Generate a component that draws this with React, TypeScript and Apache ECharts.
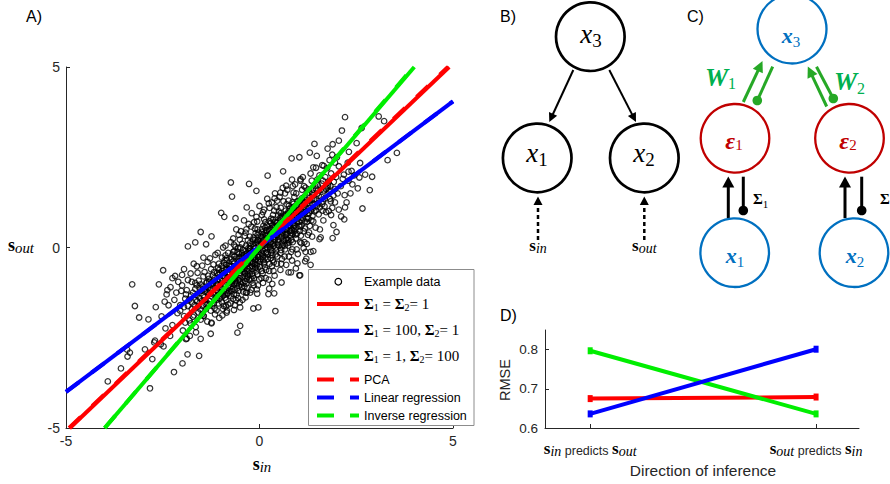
import React, { useEffect, useRef } from 'react';
import * as echarts from 'echarts';

// ---------------- DATA ----------------
const AXIS_A_TICKS = [-5, 0, 5];

// sparse outer points of the example data (s_in, s_out)
const EXAMPLE_OUTER: number[][] = [
  [-0.74, 1.8], [-0.27, 1.76], [-0.08, 1.57], [-0.71, 1.41], [-0.33, 1.11], [-0.99, 0.96], [-0.91, 0.85], [-0.62, 0.81],
  [-1.52, 0.43], [-1.24, 0.31], [-1.66, 0.14], [-1.85, 0.03], [-1.38, 0.09],
  [2.21, 3.61], [2.13, 3.24], [1.42, 2.87], [1.89, 2.86], [0.83, 2.47], [1.03, 2.5], [1.3, 2.63], [1.76, 2.74], [0.61, 2.11],
  [0.21, 1.99], [3.55, 2.62], [3.31, 2.42], [2.91, 1.96], [2.54, 1.64], [2.85, 1.59], [2.66, 1.08], [3.22, 3.5], [2.6, 2.34],
  [2.21, 1.11], [2.11, 0.86], [1.91, 0.62], [1.89, 0.26], [1.58, 0.28], [1.22, 0.1], [1.99, 0.43], [1.77, 1.71], [2.38, 2.12],
  [2.58, 1.94], [2.73, 2.02], [2.28, 2.35], [2.51, 2.89], [1.88, 2.57], [1.48, 2.54], [1.06, 1.89], [1.39, 2.22], [1.66, 2.26],
  [2.05, 2.96], [2.31, 2.65], [2.64, 3.31], [3.08, 3.63], [2.19, 0.78], [1.55, 0.23], [1.32, -0.12], [1.21, -0.31], [0.98, -0.44],
  [1.03, -0.77], [0.81, -0.69], [0.41, -1.76],
  [-2.49, -0.63], [-2.18, -0.79], [-3.29, -1.02], [-2.6, -1.02], [-2.38, -1.18], [-3.22, -1.62], [-3.11, -1.94], [-2.87, -1.99],
  [-2.68, -1.65], [-2.53, -1.91], [-3.35, -2.91], [-3.41, -3.02], [-3.58, -3.35], [-3.92, -3.71], [-2.83, -3.9], [-2.21, -3.45],
  [-1.99, -3.21], [-1.86, -2.96], [-1.56, -3.0], [-1.88, -2.52], [-1.64, -2.35], [-1.26, -2.39], [-0.5, -2.17], [-0.57, -2.36],
  [-0.16, -1.69], [-2.43, -2.24], [-2.31, -2.45], [-2.55, -2.68], [-2.96, -2.82], [-2.72, -2.63], [-2.0, -0.76], [-2.7, -2.58],
  [-2.48, -2.74], [-2.77, -3.09], [-1.52, -2.53], [-1.9, -2.54], [-3.42, -2.83],
  [0.38, -1.27], [0.57, -0.97], [0.75, -0.69], [1.05, -0.77], [0.94, -0.58], [1.18, -0.38], [1.32, -0.48], [1.39, -0.1],
  [1.19, -0.12], [0.25, -1.14], [0.33, -1.01], [-0.33, -1.25], [-0.03, -1.66], [0.23, -1.29], [-0.5, -1.66], [-0.85, -1.8],
  [-1.24, -2.08], [-1.45, -1.89], [-0.07, -1.16],
  [-2.3, -1.1], [-2.2, -1.45], [-2.1, -0.95], [-2.35, -1.6], [-1.95, -0.6], [-2.15, -1.25], [-2.0, -1.05], [-2.4, -1.3],
  [-1.9, -1.3], [-2.25, -0.85], [-2.05, -1.75], [-2.45, -1.5], [-1.7, -0.45], [-1.75, -0.95],
  [2.2, 1.45], [2.15, 1.9], [2.3, 2.1], [2.05, 2.25], [1.95, 1.25], [2.25, 1.25], [2.4, 1.75], [1.85, 2.05], [2.35, 1.5],
  [1.7, 1.95], [2.45, 2.0], [2.0, 2.5],
];

// dense core of the example data (s_in, s_out)
const EXAMPLE_CORE: number[][] = [
  [-2.05, -1.6], [-1.98, -2.3], [-2.02, -1.2], [-1.95, -1.9],
  [-1.82, -1.45], [-1.78, -2.1], [-1.85, -0.9], [-1.75, -1.7], [-1.8, -2.45], [-1.72, -1.25],
  [-1.62, -1.05], [-1.58, -1.8], [-1.65, -2.2], [-1.55, -1.4], [-1.6, -0.7], [-1.68, -1.6], [-1.52, -2.0],
  [-1.42, -1.15], [-1.38, -1.7], [-1.45, -0.8], [-1.35, -2.05], [-1.4, -1.45], [-1.48, -0.5], [-1.32, -1.3], [-1.44, -1.9], [-1.36, -0.95],
  [-1.22, -1.0], [-1.18, -1.55], [-1.25, -0.6], [-1.15, -1.85], [-1.2, -1.25], [-1.28, -0.3], [-1.12, -1.4], [-1.24, -2.1], [-1.16, -0.85], [-1.3, -1.6],
  [-1.02, -0.9], [-0.98, -1.35], [-1.05, -0.45], [-0.95, -1.7], [-1.0, -1.1], [-1.08, -0.15], [-0.92, -1.2], [-1.04, -1.95], [-0.96, -0.65], [-1.1, -1.45], [-0.9, -0.35], [-1.06, -0.75],
  [-0.82, -0.7], [-0.78, -1.2], [-0.85, -0.3], [-0.75, -1.55], [-0.8, -0.95], [-0.88, 0.05], [-0.72, -1.0], [-0.84, -1.75], [-0.76, -0.5], [-0.9, -1.3], [-0.7, -0.2], [-0.86, -0.6], [-0.74, -1.35],
  [-0.62, -0.55], [-0.58, -1.0], [-0.65, -0.1], [-0.55, -1.4], [-0.6, -0.8], [-0.68, 0.25], [-0.52, -0.85], [-0.64, -1.6], [-0.56, -0.3], [-0.7, -1.15], [-0.5, 0.0], [-0.66, -0.45], [-0.54, -1.2], [-0.6, 0.5],
  [-0.42, -0.35], [-0.38, -0.8], [-0.45, 0.1], [-0.35, -1.25], [-0.4, -0.6], [-0.48, 0.45], [-0.32, -0.65], [-0.44, -1.45], [-0.36, -0.1], [-0.5, -0.95], [-0.3, 0.2], [-0.46, -0.25], [-0.34, -1.0], [-0.4, 0.75],
  [-0.22, -0.15], [-0.18, -0.6], [-0.25, 0.3], [-0.15, -1.05], [-0.2, -0.4], [-0.28, 0.65], [-0.12, -0.45], [-0.24, -1.25], [-0.16, 0.1], [-0.3, -0.75], [-0.1, 0.4], [-0.26, -0.05], [-0.14, -0.85], [-0.2, 0.95],
  [-0.02, 0.05], [0.02, -0.4], [-0.05, 0.5], [0.05, -0.85], [0.0, -0.2], [-0.08, 0.85], [0.08, -0.25], [-0.04, -1.05], [0.04, 0.3], [-0.1, -0.55], [0.1, 0.6], [-0.06, 0.15], [0.06, -0.65], [0.0, 1.15],
  [0.18, 0.25], [0.22, -0.2], [0.15, 0.7], [0.25, -0.65], [0.2, 0.0], [0.12, 1.05], [0.28, -0.05], [0.16, -0.85], [0.24, 0.5], [0.1, -0.35], [0.3, 0.8], [0.14, 0.35], [0.26, -0.45], [0.2, 1.35],
  [0.38, 0.45], [0.42, 0.0], [0.35, 0.9], [0.45, -0.45], [0.4, 0.2], [0.32, 1.25], [0.48, 0.15], [0.36, -0.65], [0.44, 0.7], [0.3, -0.15], [0.5, 1.0], [0.34, 0.55], [0.46, -0.25], [0.4, 1.5],
  [0.58, 0.65], [0.62, 0.2], [0.55, 1.1], [0.65, -0.25], [0.6, 0.4], [0.52, 1.4], [0.68, 0.35], [0.56, -0.45], [0.64, 0.9], [0.5, 0.05], [0.7, 1.2], [0.54, 0.75], [0.66, -0.05], [0.6, 1.65],
  [0.78, 0.85], [0.82, 0.4], [0.75, 1.3], [0.85, -0.05], [0.8, 0.6], [0.72, 1.6], [0.88, 0.55], [0.76, -0.25], [0.84, 1.1], [0.7, 0.25], [0.9, 1.4], [0.74, 0.95], [0.86, 0.15],
  [0.98, 1.05], [1.02, 0.6], [0.95, 1.5], [1.05, 0.15], [1.0, 0.8], [0.92, 1.75], [1.08, 0.75], [0.96, -0.05], [1.04, 1.3], [0.9, 0.45], [1.1, 1.6], [0.94, 1.15],
  [1.18, 1.25], [1.22, 0.8], [1.15, 1.7], [1.25, 0.35], [1.2, 1.0], [1.12, 1.95], [1.28, 0.95], [1.16, 0.15], [1.24, 1.5], [1.3, 0.6],
  [1.38, 1.45], [1.42, 1.0], [1.35, 1.85], [1.45, 0.55], [1.4, 1.2], [1.48, 1.15], [1.36, 0.3], [1.44, 1.7], [1.32, 2.05],
  [1.58, 1.6], [1.62, 1.2], [1.55, 2.0], [1.65, 0.75], [1.6, 1.4], [1.68, 1.35], [1.56, 0.5], [1.64, 1.85],
  [1.78, 1.8], [1.82, 1.35], [1.75, 2.2], [1.85, 0.9], [1.8, 1.55], [1.88, 1.1],
  [1.98, 1.95], [2.02, 1.5], [1.95, 2.35], [2.05, 1.05], [2.1, 1.7],
  [-1.3, -0.95], [-1.1, -0.7], [-0.9, -0.8], [-0.7, -0.4], [-0.5, -0.55], [-0.3, -0.45], [-0.1, -0.15], [0.1, 0.05], [0.3, 0.35],
  [0.5, 0.45], [0.7, 0.5], [0.9, 0.75], [1.1, 0.9], [1.3, 1.1],
  [-1.26, -1.75], [-1.06, -1.55], [-0.86, -1.45], [-0.66, -1.3], [-0.46, -1.1], [-0.26, -0.9], [-0.06, -0.75], [0.14, -0.55],
  [0.34, -0.35], [0.54, -0.15], [0.74, 0.05], [0.94, 0.25], [1.14, 0.45],
  [-1.34, -0.4], [-1.14, -0.2], [-0.94, 0.0], [-0.74, 0.15], [-0.54, 0.35], [-0.34, 0.5], [-0.14, 0.7], [0.06, 0.9], [0.26, 1.1],
  [0.46, 1.3], [0.66, 1.5], [0.86, 1.7], [1.06, 1.85],
  [-1.5, -1.2], [-1.3, -1.05], [-1.1, -1.2], [-0.9, -1.05], [-0.7, -0.75], [-0.5, -0.7], [-0.3, -0.3], [-0.1, -0.35], [0.1, 0.2],
  [0.3, 0.15], [0.5, 0.6], [0.7, 0.7], [0.9, 0.95], [1.1, 1.15], [1.3, 1.3], [1.5, 1.5],
  [-0.15, -0.25], [0.25, 0.45], [-0.45, -0.6], [0.55, 0.95], [-0.75, -1.1], [0.85, 1.25], [-0.35, 0.05], [0.35, 0.1], [-0.65, -0.25],
  [0.65, 0.05], [0.05, -0.15], [-0.05, 0.35], [0.45, 0.35], [-0.55, -0.9], [0.15, 0.55], [-0.25, -0.55], [0.75, 1.0], [-0.85, -0.35],
  [0.95, 0.55], [-1.05, -1.3],
  [-1.62, -1.32], [-1.47, -1.62], [-1.33, -1.12], [-1.19, -0.47], [-1.07, -1.02], [-0.93, -0.58], [-0.81, -1.12], [-0.69, -0.62],
  [-0.57, -0.12], [-0.43, -0.82], [-0.31, -0.58], [-0.17, 0.22], [-0.07, -0.48], [0.07, 0.42], [0.19, -0.12], [0.33, 0.62],
  [0.43, -0.08], [0.57, 0.28], [0.69, 0.92], [0.83, 0.48], [0.97, 1.18], [1.09, 0.62], [1.23, 1.22], [1.37, 0.88], [1.51, 1.72], [1.63, 1.02],
  [-1.57, -0.92], [-1.43, -1.38], [-1.27, -1.42], [-1.13, -0.98], [-0.97, -1.52], [-0.83, -0.82], [-0.67, -1.02], [-0.53, -0.38],
  [-0.37, -0.72], [-0.23, -0.28], [-0.09, 0.12], [0.03, -0.32], [0.17, 0.32], [0.29, 0.68], [0.41, 0.28], [0.53, 0.82], [0.67, 0.62],
  [0.79, 0.32], [0.91, 1.02], [1.03, 0.92], [1.17, 0.72], [1.29, 1.52], [1.41, 1.32], [1.53, 0.92],
  [-0.88, -0.22], [-0.62, 0.02], [-0.38, 0.32], [-0.12, 0.52], [0.12, 0.78], [0.38, 1.02], [0.62, 1.28], [0.88, 1.52], [-0.92, -1.62],
  [-0.68, -1.42], [-0.42, -1.22], [-0.18, -0.98], [0.08, -0.72], [0.32, -0.52], [0.58, -0.32], [0.82, -0.12], [1.08, 0.12],
  [-1.72, -1.92], [-1.52, -1.02], [-1.92, -1.42], [1.72, 1.62], [1.92, 1.82], [1.52, 1.22], [-2.12, -1.82], [2.18, 2.02], [-2.25, -2.15], [2.3, 1.85],
  [-1.85, -1.62], [-1.77, -1.33], [-1.69, -1.88], [-1.61, -1.49], [-1.53, -1.71], [-1.46, -1.08], [-1.39, -1.57], [-1.31, -0.87],
  [-1.23, -1.36], [-1.16, -1.68], [-1.09, -0.93], [-1.01, -1.27], [-0.94, -0.79], [-0.87, -1.21], [-0.79, -0.51], [-0.72, -0.88],
  [-0.64, -1.18], [-0.57, -0.66], [-0.49, -0.27], [-0.42, -0.98], [-0.34, -0.47], [-0.27, -0.11], [-0.19, -0.73], [-0.12, -0.02],
  [-0.04, -0.37], [0.03, 0.18], [0.11, -0.46], [0.18, 0.47], [0.26, 0.08], [0.33, -0.22], [0.41, 0.57], [0.48, 0.22], [0.56, -0.07],
  [0.63, 0.74], [0.71, 0.38], [0.78, 1.07], [0.86, 0.67], [0.93, 0.36], [1.01, 1.12], [1.08, 0.93], [1.16, 1.41], [1.23, 0.71],
  [1.31, 1.18], [1.38, 1.61], [1.46, 1.03], [1.53, 1.43], [1.61, 1.77], [1.68, 1.14], [1.76, 1.47], [1.83, 1.71],
  [-1.81, -2.02], [-1.66, -1.15], [-1.49, -1.86], [-1.34, -1.57], [-1.21, -0.77], [-1.04, -0.62], [-0.89, -1.39], [-0.76, -0.72],
  [-0.61, -1.46], [-0.46, -0.44], [-0.31, -1.12], [-0.16, -0.42], [-0.01, -0.88], [0.14, 0.12], [0.29, -0.29], [0.44, 1.12],
  [0.59, 0.51], [0.74, 0.21], [0.89, 0.86], [1.04, 0.46], [1.19, 1.66], [1.34, 0.75], [1.49, 1.88], [1.64, 1.27], [1.79, 1.01],
  [-0.97, -0.28], [-0.81, -0.15], [-0.66, 0.08], [-0.51, 0.22], [-0.36, 0.41], [-0.21, 0.58], [-0.06, 0.72], [0.09, 0.98],
  [0.24, 1.22], [0.39, 1.36], [0.54, 1.52], [0.69, 1.71], [0.84, 1.88], [-1.11, -1.74], [-0.96, -1.88], [-0.81, -1.58],
  [-0.66, -1.73], [-0.51, -1.52], [-0.36, -1.38], [-0.21, -1.17], [-0.06, -1.28], [0.09, -0.98], [0.24, -0.89], [0.39, -0.78],
  [0.54, -0.62], [0.69, -0.48], [0.84, -0.36], [0.99, -0.18], [1.14, -0.02], [-1.45, -0.28], [-1.62, -0.52], [-1.78, -0.72],
  [1.46, 2.21], [1.62, 2.28], [1.81, 2.42], [-0.55, -0.02], [-0.45, -0.16], [-0.25, 0.12], [-0.15, 0.28], [0.05, 0.08],
  [0.15, -0.03], [0.35, 0.42], [0.45, 0.61], [0.65, 0.86], [0.75, 0.62], [-0.75, -0.95], [-0.95, -0.92], [-1.15, -1.12],
  [-1.35, -1.23], [-0.35, -0.33], [-0.15, -0.12], [0.05, 0.02], [0.25, 0.22], [0.55, 0.52], [0.85, 0.82], [1.15, 1.05],
  [1.45, 1.35], [1.75, 1.65], [-1.65, -1.45], [-1.95, -1.65], [1.95, 1.62], [-0.05, -0.58], [0.15, -0.28], [-0.25, -0.72], [0.35, 0.78],
  [-1.41, -1.22], [-1.37, -0.98], [-1.29, -1.48], [-1.26, -1.13], [-1.19, -0.92], [-1.14, -1.31], [-1.11, -1.03], [-1.07, -0.56],
  [-1.03, -1.42], [-0.99, -0.98], [-0.96, -1.16], [-0.93, -0.71], [-0.89, -1.02], [-0.86, -0.48], [-0.83, -1.27], [-0.79, -0.83],
  [-0.77, -0.61], [-0.73, -1.21], [-0.71, -0.93], [-0.67, -0.37], [-0.64, -0.86], [-0.61, -0.63], [-0.58, -1.13], [-0.55, -0.49],
  [-0.52, -0.18], [-0.49, -0.78], [-0.47, -1.02], [-0.43, -0.53], [-0.41, -0.21], [-0.37, -0.93], [-0.34, -0.18], [-0.31, -0.81],
  [-0.28, -0.36], [-0.26, -0.64], [-0.23, 0.04], [-0.19, -0.51], [-0.17, -0.79], [-0.13, -0.27], [-0.11, 0.21], [-0.08, -0.66],
  [-0.05, -0.06], [-0.03, 0.19], [0.01, -0.53], [0.04, 0.11], [0.07, -0.19], [0.09, 0.36], [0.12, -0.41], [0.16, 0.16],
  [0.19, 0.61], [0.21, -0.32], [0.24, 0.26], [0.27, 0.02], [0.31, 0.51], [0.33, -0.08], [0.36, 0.29], [0.39, 0.71],
  [0.42, -0.19], [0.45, 0.52], [0.47, 0.08], [0.51, 0.33], [0.53, 0.62], [0.57, 0.11], [0.59, 0.86], [0.61, 0.47],
  [0.64, 0.19], [0.67, 0.79], [0.69, 0.51], [0.72, 0.12], [0.76, 0.71], [0.79, 0.46], [0.81, 0.98], [0.83, 0.21],
  [0.87, 0.78], [0.89, 1.13], [0.91, 0.61], [0.94, 0.88], [0.97, 0.38], [0.99, 1.28], [1.03, 0.71], [1.06, 1.02],
  [1.09, 1.36], [1.12, 0.81], [1.14, 1.12], [1.17, 0.53], [1.21, 1.31], [1.24, 0.93], [1.27, 1.61], [1.33, 1.02],
  [1.36, 1.33], [1.39, 0.72], [-1.45, -1.33], [-1.33, -0.78], [-1.22, -1.61], [-1.08, -1.21], [-0.98, -0.51], [-0.87, -1.63],
  [-0.78, -1.03], [-0.68, -0.12], [-0.59, -1.31], [-0.48, -0.62], [-0.39, -1.08], [-0.29, -0.02], [-0.21, -0.88], [-0.11, -0.57],
  [-0.02, 0.41], [0.08, -0.08], [0.17, -0.62], [0.28, 0.38], [0.37, -0.41], [0.48, 0.89], [0.58, 0.03], [0.68, 1.02],
  [0.77, 0.14], [0.88, 1.21], [0.97, 0.72], [1.07, 0.33], [1.18, 0.98], [1.28, 0.42], [1.37, 1.08], [1.47, 1.63],
  [-1.55, -1.12], [-1.48, -1.47], [-1.42, -0.68], [-1.28, -1.18], [-1.18, -0.68], [-1.06, -1.12], [-0.94, -1.33], [-0.84, -0.97],
  [-0.73, -0.31], [-0.63, -0.93], [-0.53, -1.06], [-0.43, -0.07], [-0.33, -0.86], [-0.24, -0.42], [-0.14, 0.03], [-0.04, -0.27],
  [0.06, 0.51], [0.16, -0.16], [0.26, 0.73], [0.36, 0.04], [0.46, 0.68], [0.56, 0.37], [0.66, 0.43], [0.76, 0.93],
  [0.86, 0.38], [0.96, 0.98], [1.06, 0.58], [1.16, 1.23], [1.26, 0.81], [1.36, 1.52],
  [-0.92, -0.42], [-0.72, -0.52], [-0.52, -0.28], [-0.32, -0.22], [-0.12, -0.33], [0.08, 0.28], [0.28, 0.12], [0.48, 0.41],
  [0.68, 0.21], [0.88, 0.62], [-0.82, -1.28], [-0.62, -0.98], [-0.42, -0.67], [-0.22, -0.18], [-0.02, -0.12], [0.18, 0.08],
  [0.38, 0.22], [0.58, 0.71], [0.78, 0.58], [0.98, 0.86], [-1.02, -0.72], [-0.83, -0.58], [-0.63, -0.72], [-0.44, -0.37],
  [-0.24, -0.02], [-0.04, 0.22], [0.16, 0.42], [0.36, 0.61], [0.56, 0.84], [0.76, 1.16],
  [1.56, 1.11], [1.66, 1.58], [1.72, 0.98], [1.84, 1.28], [1.91, 1.44], [-1.88, -1.18], [-1.74, -1.52], [-1.66, -0.98], [-1.58, -1.62], [-1.92, -2.08],
];

// fitted lines (end points in s_in, s_out)
const FIT_SIGMA_EQUAL = [[-4.9, -5], [4.9, 5]];
const FIT_SIGMA1_100 = [[-5, -4.0], [5, 4.05]];
const FIT_SIGMA2_100 = [[-4.0, -5], [4.0, 5]];
const FIT_PCA = [[-4.92, -5], [4.87, 5]];
const FIT_LINREG = [[-5, -4.0], [5, 4.05]];
const FIT_INVREG = [[-4.0, -5], [3.98, 5]];

// panel D
const DIRECTIONS = [1, 2];
const RMSE_SIGMA_EQUAL = [0.675, 0.679];
const RMSE_SIGMA1_100 = [0.636, 0.801];
const RMSE_SIGMA2_100 = [0.797, 0.636];
const RMSE_TICKS = [0.6, 0.7, 0.8];

// ---------------- STYLE ----------------
const SERIF = '"Liberation Serif","DejaVu Serif",serif';
const SANS = '"Liberation Sans",Arial,Helvetica,sans-serif';
const AX = '#262626';
const RED = '#ff0000';
const BLUE = '#0000ff';
const GREEN = '#00ee00';
const C_BLUE = '#0070c0';
const C_RED = '#c00000';
const C_GREEN = '#26a826';
const C_GREEN_TXT = '#00b050';

type FontSpec = { family?: string; style?: string; weight?: string };
// rich styles: "m" main token, "s" subscript token lowered by `shift` px, "t" plain token
function richMS(mainSize: number, subSize: number, shift: number, color: string, mf: FontSpec, sf: FontSpec, plainSize = mainSize, plainFont: FontSpec = { family: SERIF }, plainShift = 0) {
  const p0 = Math.max(0, 2 * shift + 0.68 * (mainSize - subSize));
  const pt = Math.max(0, 2 * plainShift + 0.68 * (mainSize - plainSize));
  return {
    m: { fontFamily: mf.family || SERIF, fontStyle: mf.style || 'normal', fontWeight: mf.weight || 'normal', fontSize: mainSize, lineHeight: mainSize, fill: color, color },
    s: { fontFamily: sf.family || SERIF, fontStyle: sf.style || 'normal', fontWeight: sf.weight || 'normal', fontSize: subSize, lineHeight: mainSize, padding: [p0, 0, 0, 0], fill: color, color },
    t: { fontFamily: plainFont.family || SERIF, fontStyle: plainFont.style || 'normal', fontWeight: plainFont.weight || 'normal', fontSize: plainSize, lineHeight: mainSize, padding: [pt, 0, 0, 0], fill: color, color },
  };
}

const RICH_S = (size: number) => richMS(size, size * 0.82, 2, '#000', { weight: 'bold' }, { style: 'italic' });

function arrow(x1: number, y1: number, x2: number, y2: number, color: string, lw: number, head: number, halfW: number, dash?: number[]) {
  const dx = x2 - x1, dy = y2 - y1, L = Math.hypot(dx, dy);
  const ux = dx / L, uy = dy / L;
  const bx = x2 - ux * head, by = y2 - uy * head;
  const nx = -uy, ny = ux;
  return [
    { type: 'line', shape: { x1, y1, x2: bx + ux, y2: by + uy }, style: { stroke: color, lineWidth: lw, lineDash: dash || null } },
    { type: 'polygon', shape: { points: [[x2, y2], [bx + nx * halfW, by + ny * halfW], [bx - nx * halfW, by - ny * halfW]] }, style: { fill: color } },
  ];
}
function ballLine(x1: number, y1: number, x2: number, y2: number, color: string, lw: number, r: number) {
  return [
    { type: 'line', shape: { x1, y1, x2, y2 }, style: { stroke: color, lineWidth: lw } },
    { type: 'circle', shape: { cx: x2, cy: y2, r }, style: { fill: color } },
  ];
}
function node(cx: number, cy: number, r: number, color: string, lw: number) {
  return { type: 'circle', shape: { cx, cy, r }, style: { fill: '#fff', stroke: color, lineWidth: lw } };
}
function rt(x: number, y: number, text: string, rich: any, align = 'center') {
  return { type: 'text', x, y, style: { text, rich, align, verticalAlign: 'middle' } };
}
function plain(x: number, y: number, text: string, size: number, align = 'left', color = '#000') {
  return { type: 'text', x, y, style: { text, fontFamily: SANS, fontSize: size, fill: color, align, verticalAlign: 'middle' } };
}

function buildGraphics() {
  const g: any[] = [];
  // panel labels
  g.push(plain(26, 16, 'A)', 16));
  g.push(plain(500, 16, 'B)', 16));
  g.push(plain(687, 16, 'C)', 16));
  g.push(plain(500, 315, 'D)', 16));

  // panel A axis names (y = em-middle of the main glyph)
  g.push(rt(8, 244.5, '{m|s}{s|out}', RICH_S(18), 'left'));
  g.push(rt(262, 463.5, '{m|s}{s|in}', RICH_S(18), 'center'));

  // panel A legend
  const L: any[] = [];
  L.push({ type: 'rect', shape: { x: 308.5, y: 269.5, width: 165.5, height: 156 }, style: { fill: '#fff', stroke: '#8c8c8c', lineWidth: 1 } });
  L.push({ type: 'circle', shape: { cx: 338.3, cy: 281.7, r: 3.3 }, style: { fill: 'none', stroke: '#000', lineWidth: 1.2 } });
  L.push(plain(364, 282, 'Example data', 12.5));
  const sigmaRich = richMS(15, 10, 2, '#000', { weight: 'bold' }, {}, 15, { family: SERIF }, 0);
  const solidRows: [number, string, string][] = [
    [304, RED, '{m|Σ}{s|1}{t| = }{m|Σ}{s|2}{t|= 1}'],
    [330.7, BLUE, '{m|Σ}{s|1}{t| = 100, }{m|Σ}{s|2}{t|= 1}'],
    [356.5, GREEN, '{m|Σ}{s|1}{t| = 1, }{m|Σ}{s|2}{t|= 100}'],
  ];
  solidRows.forEach(([y, c, t]) => {
    L.push({ type: 'line', shape: { x1: 317, y1: y, x2: 359, y2: y }, style: { stroke: c, lineWidth: 4 } });
    L.push(rt(364, y - 0.5, t, sigmaRich, 'left'));
  });
  const dashRows: [number, string, string][] = [
    [379.5, RED, 'PCA'],
    [397.5, BLUE, 'Linear regression'],
    [415.5, GREEN, 'Inverse regression'],
  ];
  dashRows.forEach(([y, c, t]) => {
    L.push({ type: 'line', shape: { x1: 317, y1: y, x2: 334, y2: y }, style: { stroke: c, lineWidth: 4 } });
    L.push({ type: 'line', shape: { x1: 350, y1: y, x2: 359, y2: y }, style: { stroke: c, lineWidth: 4 } });
    L.push(plain(364, y, t, 12.5));
  });
  L.forEach((e) => { e.z = 100; g.push(e); });

  // panel B
  const bRich = richMS(27, 19, 3.4, '#000', { style: 'italic' }, {});
  g.push(...arrow(573.3, 70, 549.3, 122, '#000', 2, 9, 4.5));
  g.push(...arrow(609.3, 70, 636, 122, '#000', 2, 9, 4.5));
  g.push(node(590.3, 36.7, 34.3, '#000', 2.7));
  g.push(node(537.2, 158, 34.3, '#000', 2.7));
  g.push(node(644.3, 158, 34.3, '#000', 2.7));
  g.push(rt(591, 34.3, '{m|x}{s|3}', bRich));
  g.push(rt(537, 153.3, '{m|x}{s|1}', bRich));
  g.push(rt(644, 153.3, '{m|x}{s|2}', bRich));
  g.push(...arrow(538, 240, 538, 196.5, '#000', 2.5, 8.5, 4.5, [4, 3]));
  g.push(...arrow(644.3, 240, 644.3, 196.5, '#000', 2.5, 8.5, 4.5, [4, 3]));
  g.push(rt(538, 245, '{m|s}{s|in}', RICH_S(17), 'center'));
  g.push(rt(644.3, 245, '{m|s}{s|out}', RICH_S(17), 'center'));

  // panel C
  g.push(...arrow(743.3, 102, 762.5, 61, C_GREEN, 3, 11, 5.5));
  g.push(...ballLine(772.7, 66.7, 757.3, 100.5, C_GREEN, 3, 4.8));
  g.push(...arrow(826.7, 106.5, 807.8, 66.5, C_GREEN, 3, 11, 5.5));
  g.push(...ballLine(816.5, 66.7, 833.3, 98.5, C_GREEN, 3, 4.8));
  g.push(...arrow(728.3, 218, 728.3, 176.5, '#000', 3, 11, 6));
  g.push(...ballLine(743.3, 176.7, 743.3, 210.5, '#000', 3, 4.8));
  g.push(...arrow(845, 218, 845, 176.5, '#000', 3, 11, 6));
  g.push(...ballLine(861.7, 176.7, 861.7, 210.5, '#000', 3, 4.8));
  g.push(node(792, 29, 34.5, C_BLUE, 2.3));
  g.push(node(735, 138.3, 34.3, C_RED, 2.3));
  g.push(node(849.5, 138.3, 34.3, C_RED, 2.3));
  g.push(node(734.7, 252.7, 34.3, C_BLUE, 2.3));
  g.push(node(854, 252.7, 34.3, C_BLUE, 2.3));
  const bi = { style: 'italic', weight: 'bold' };
  const xBlue = richMS(22, 15, 3.4, C_BLUE, bi, {});
  const epsRed = richMS(24, 15, 1.5, C_RED, bi, {});
  const wGreen = richMS(26, 16, 3.5, C_GREEN_TXT, bi, {});
  g.push(rt(791, 35.8, '{m|x}{s|3}', xBlue));
  g.push(rt(734, 140.8, '{m|ε}{s|1}', epsRed));
  g.push(rt(848, 140.8, '{m|ε}{s|2}', epsRed));
  g.push(rt(735, 255.8, '{m|x}{s|1}', xBlue));
  g.push(rt(855, 255.8, '{m|x}{s|2}', xBlue));
  g.push(rt(705, 77, '{m|W}{s|1}', wGreen, 'left'));
  g.push(rt(834, 81.5, '{m|W}{s|2}', wGreen, 'left'));
  const sigRich = richMS(15, 11, 3.5, '#000', { weight: 'bold' }, {});
  g.push(rt(753, 199, '{m|Σ}{s|1}', sigRich, 'left'));
  g.push(rt(880, 199, '{m|Σ}', sigRich, 'left'));

  // panel D axis names
  g.push({ type: 'text', x: 505, y: 380, rotation: Math.PI / 2, style: { text: 'RMSE', fontFamily: SANS, fontSize: 14.5, fill: AX, align: 'center', verticalAlign: 'middle' } });
  g.push({ type: 'text', x: 703, y: 470, style: { text: 'Direction of inference', fontFamily: SANS, fontSize: 15.5, fill: AX, align: 'center', verticalAlign: 'middle' } });
  return g;
}

const valueAxisBase = {
  type: 'value',
  axisLine: { show: true, onZero: false, lineStyle: { color: AX, width: 1 } },
  axisTick: { show: true, inside: true, length: 4, lineStyle: { color: AX } },
  splitLine: { show: false },
  minorTick: { show: false },
};

function buildOption(): any {
  const lineSeries = (name: string, data: number[][], color: string, dashed: boolean) => ({
    name, type: 'line', xAxisIndex: 0, yAxisIndex: 0, data, symbol: 'none', silent: true,
    lineStyle: { color, width: 4, type: dashed ? [16, 16] : 'solid', cap: 'butt' },
  });
  const rmseSeries = (name: string, vals: number[], color: string) => ({
    name, type: 'line', xAxisIndex: 1, yAxisIndex: 1,
    data: DIRECTIONS.map((d, i) => [d, vals[i]]),
    symbol: 'rect', symbolSize: [5, 7],
    itemStyle: { color },
    lineStyle: { color, width: 4 },
  });
  const dRich = richMS(17, 14, 2, '#000', { weight: 'bold' }, { style: 'italic' }, 12.5, { family: SANS }, 0.5);
  (dRich.t as any).color = AX;
  (dRich.t as any).fill = AX;
  return {
    animation: false,
    backgroundColor: '#fff',
    grid: [
      { left: 66, top: 67, width: 387, height: 361, outerBoundsMode: 'none', containLabel: false },
      { left: 545, top: 330, width: 314, height: 98, outerBoundsMode: 'none', containLabel: false },
    ],
    xAxis: [
      {
        ...valueAxisBase, gridIndex: 0, min: -5, max: 5, interval: 5,
        axisLabel: { color: AX, fontSize: 14, fontFamily: SANS, margin: 6, customValues: AXIS_A_TICKS },
        axisTick: { ...valueAxisBase.axisTick, customValues: AXIS_A_TICKS },
      },
      {
        ...valueAxisBase, gridIndex: 1, min: 0.8, max: 2.19,
        axisTick: { ...valueAxisBase.axisTick, customValues: DIRECTIONS },
        axisLabel: {
          customValues: DIRECTIONS, margin: 12,
          formatter: (v: number) => (v === 1 ? '{m|s}{s|in}{t| predicts }{m|s}{s|out}' : '{m|s}{s|out}{t| predicts }{m|s}{s|in}'),
          rich: dRich,
        },
      },
    ],
    yAxis: [
      {
        ...valueAxisBase, gridIndex: 0, min: -5, max: 5, interval: 5,
        axisLabel: { color: AX, fontSize: 14, fontFamily: SANS, margin: 6, customValues: AXIS_A_TICKS },
        axisTick: { ...valueAxisBase.axisTick, customValues: AXIS_A_TICKS },
      },
      {
        ...valueAxisBase, gridIndex: 1, min: 0.6, max: 0.85,
        axisTick: { ...valueAxisBase.axisTick, customValues: RMSE_TICKS },
        axisLabel: { color: AX, fontSize: 13.5, fontFamily: SANS, margin: 7, customValues: RMSE_TICKS, formatter: (v: number) => v.toFixed(1) },
      },
    ],
    series: [
      {
        name: 'Example data', type: 'scatter', xAxisIndex: 0, yAxisIndex: 0,
        data: [...EXAMPLE_OUTER, ...EXAMPLE_CORE], symbol: 'circle', symbolSize: 5.5, silent: true, large: false,
        itemStyle: { color: 'rgba(0,0,0,0)', borderColor: '#000', borderWidth: 1.25 },
      },
      lineSeries('Σ1 = Σ2 = 1', FIT_SIGMA_EQUAL, RED, false),
      lineSeries('Σ1 = 100, Σ2 = 1', FIT_SIGMA1_100, BLUE, false),
      lineSeries('Σ1 = 1, Σ2 = 100', FIT_SIGMA2_100, GREEN, false),
      lineSeries('PCA', FIT_PCA, RED, true),
      lineSeries('Linear regression', FIT_LINREG, BLUE, true),
      lineSeries('Inverse regression', FIT_INVREG, GREEN, true),
      rmseSeries('RMSE Σ1 = Σ2 = 1', RMSE_SIGMA_EQUAL, RED),
      rmseSeries('RMSE Σ1 = 1, Σ2 = 100', RMSE_SIGMA2_100, GREEN),
      rmseSeries('RMSE Σ1 = 100, Σ2 = 1', RMSE_SIGMA1_100, BLUE),
    ],
    graphic: { elements: buildGraphics() },
  };
}

export default function App() {
  const ref = useRef<HTMLDivElement>(null);
  useEffect(() => {
    const chart = echarts.init(ref.current as HTMLDivElement, null, { renderer: 'svg' });
    chart.setOption(buildOption());
    return () => chart.dispose();
  }, []);
  return <div ref={ref} style={{ position: 'absolute', left: 0, top: 0, width: 890, height: 484, background: '#fff' }} />;
}
